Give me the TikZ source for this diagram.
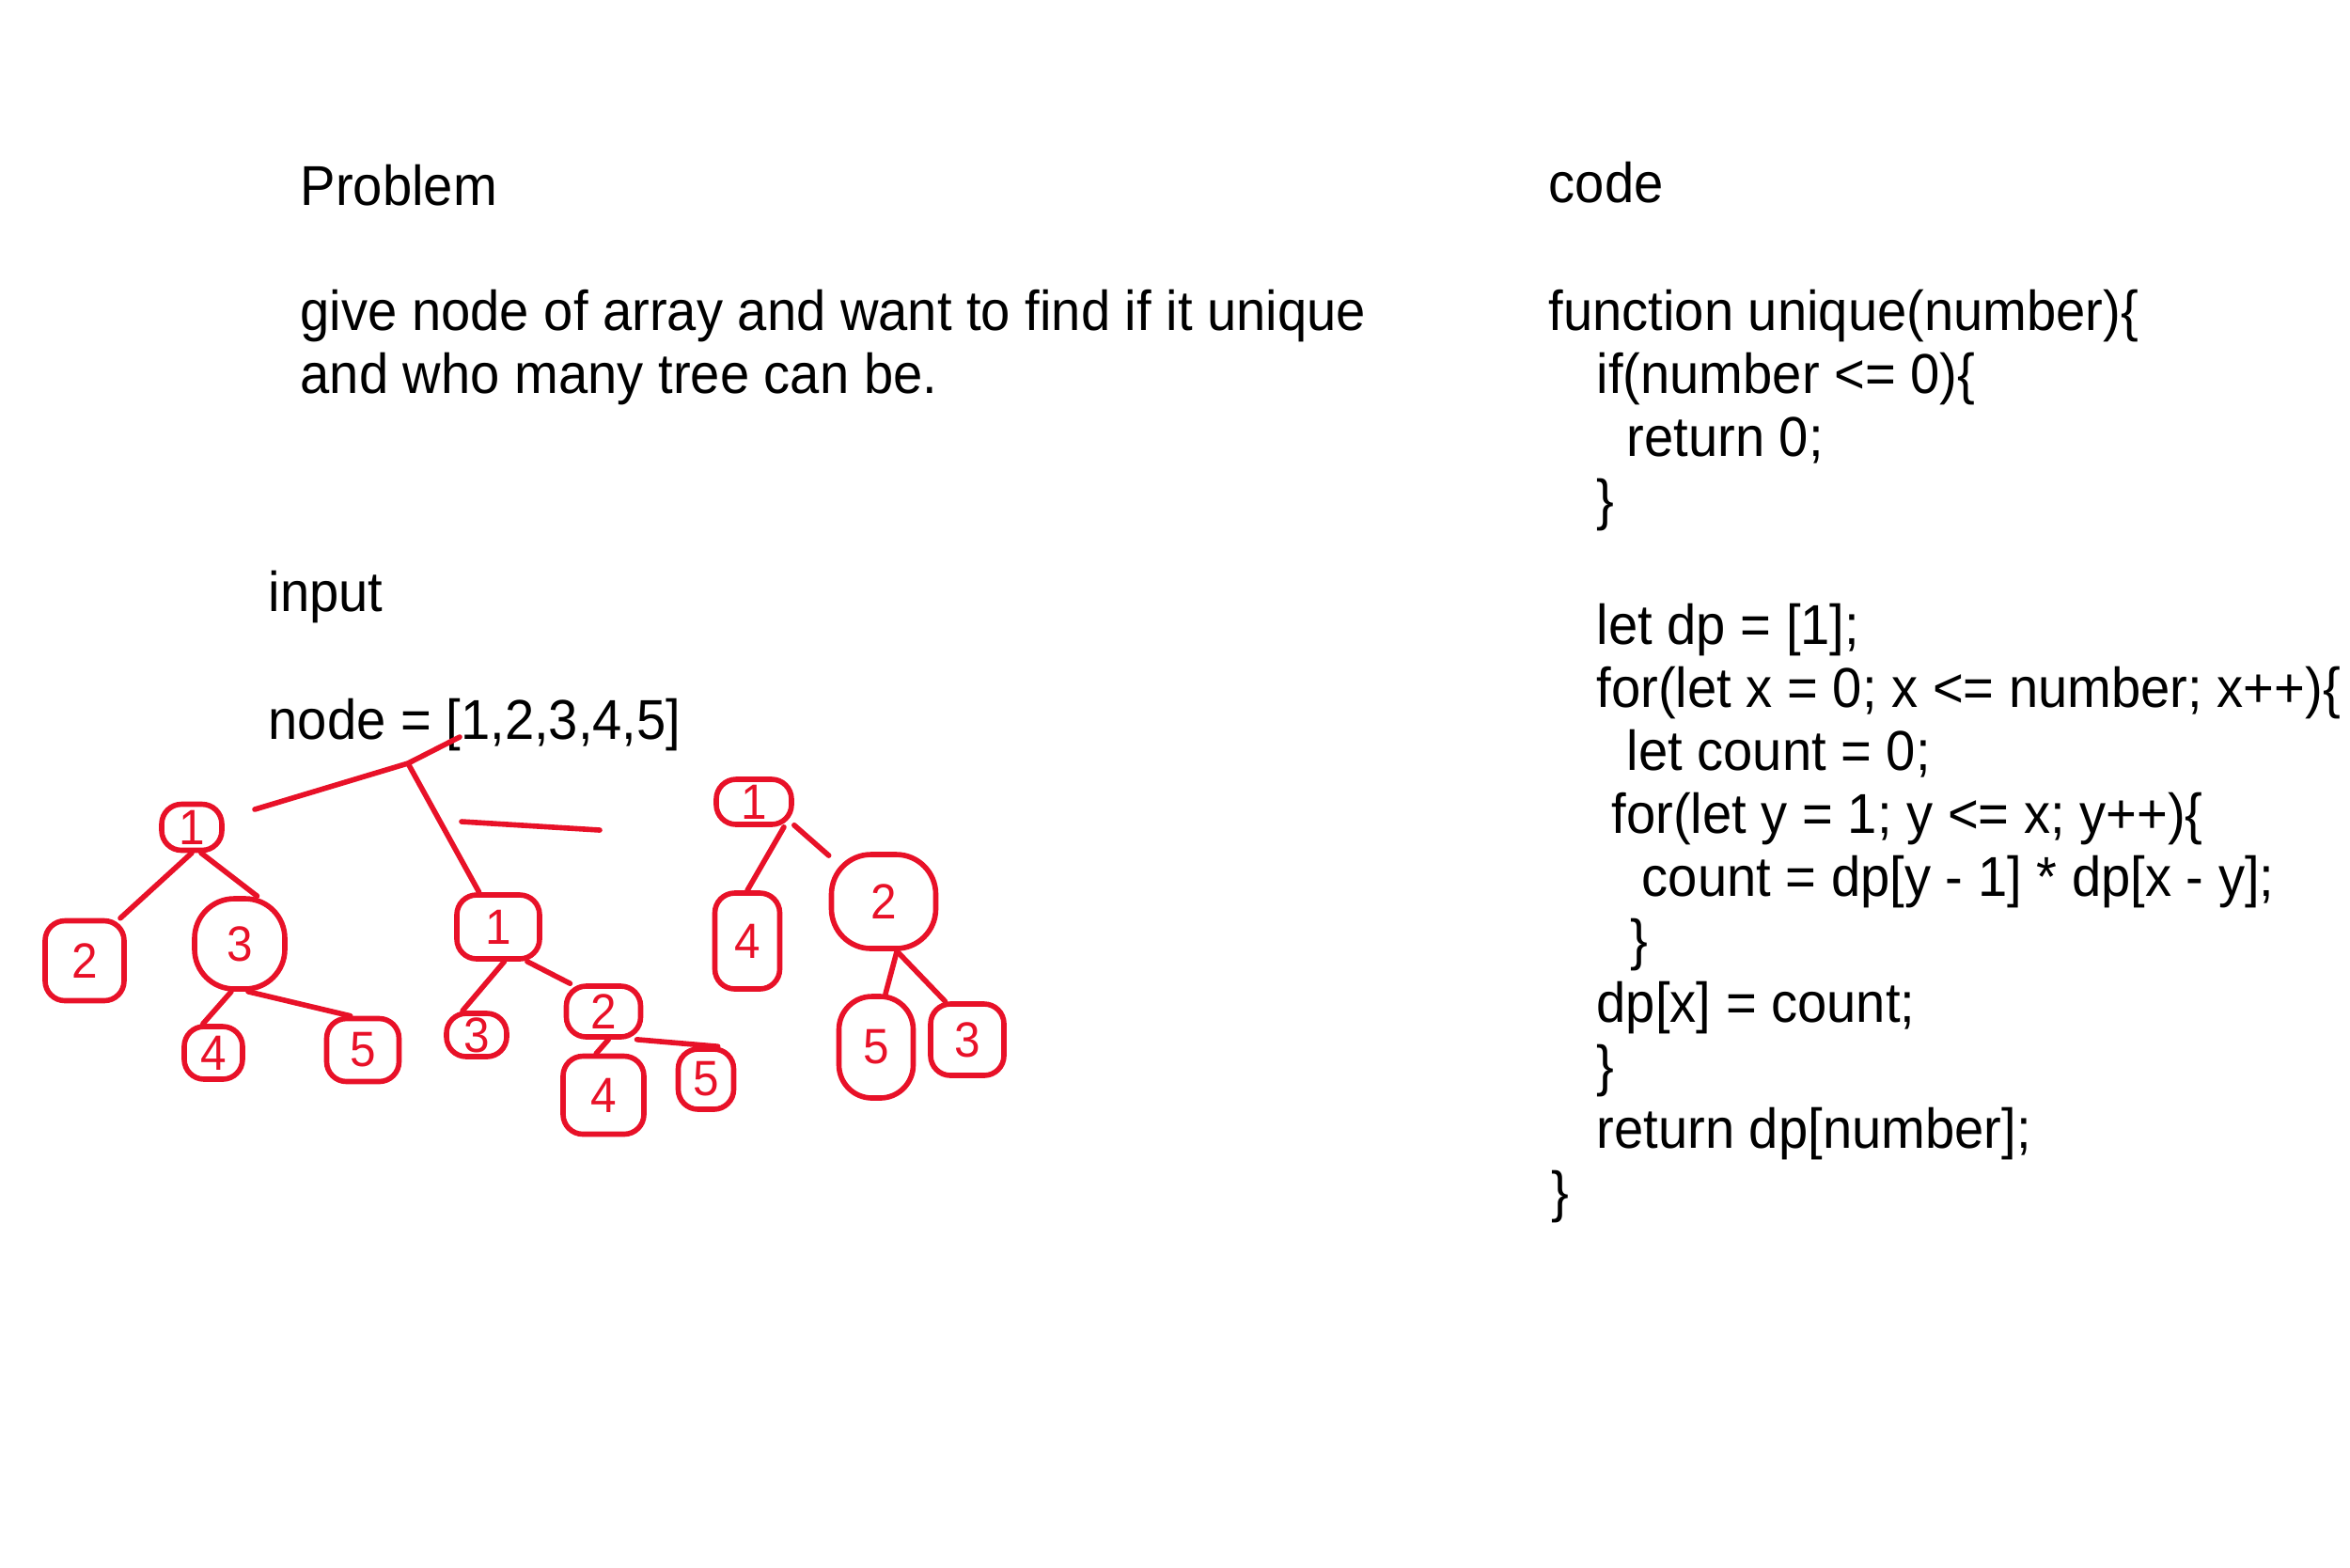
\documentclass[tikz,border=0pt]{standalone}
\usepackage{fontspec}
\setmainfont{Liberation Sans}[FakeStretch=0.94]
\definecolor{tinta}{RGB}{232,17,40}
\tikzset{
    texto/.style={anchor=base west, inner sep=0pt, font=\fontsize{17}{20}\selectfont},
    caja/.style={draw=tinta, text=tinta, line width=1.6pt, rounded corners=6pt, inner sep=0pt, font=\fontsize{15}{17}\selectfont},
    rama/.style={draw=tinta, line width=1.6pt, line cap=round},
}
\begin{document}
\begin{tikzpicture}
\useasboundingbox (0,0) rectangle (25,-16.67);
% Problem text
\node[texto] (problem) at (3.19,-2.18) {Problem};
\node[texto] (desc1) at (3.19,-3.51) {give node of array and want to find if it unique};
\node[texto] (desc2) at (3.19,-4.18) {and who many tree can be.};
\node[texto] (input) at (2.85,-6.50) {input};
\node[texto] (arr) at (2.85,-7.86) {node = [1,2,3,4,5]};
% Code
\node[texto] (code) at (16.47,-2.15) {code};
\foreach \x/\y/\linea [count=\i] in {
    16.47/3.51/{function unique(number)\{},
    16.98/4.18/{if(number <= 0)\{},
    17.30/4.85/{return 0;},
    16.98/5.52/{\}},
    16.98/6.85/{let dp = [1];},
    16.98/7.52/{for(let x = 0; x <= number; x++)\{},
    17.30/8.19/{let count = 0;},
    17.14/8.86/{for(let y = 1; y <= x; y++)\{},
    17.46/9.53/{count = dp[y - 1] * dp[x - y];},
    17.34/10.20/{\}},
    16.98/10.87/{dp[x] = count;},
    16.98/11.54/{\}},
    16.98/12.21/{return dp[number];},
    16.50/12.88/{\}}} {
    \node[texto] (linea\i) at (\x,-\y) {\linea};
}
% Tree 1
\node[caja, minimum width=0.64cm, minimum height=0.49cm] (a1) at (2.04,-8.80) {1};
\node[caja, minimum width=0.84cm, minimum height=0.85cm] (a2) at (0.90,-10.22) {2};
\node[caja, minimum width=0.96cm, minimum height=0.96cm, rounded corners=12pt] (a3) at (2.55,-10.04) {3};
\node[caja, minimum width=0.62cm, minimum height=0.56cm] (a4) at (2.27,-11.20) {4};
\node[caja, minimum width=0.77cm, minimum height=0.67cm] (a5) at (3.86,-11.17) {5};
\draw[rama] (a1.south) -- (a2.50);
\draw[rama] (a1.-70) -- (a3.70);
\draw[rama] (a3.-100) -- (a4.110);
\draw[rama] (a3.-80) -- (a5.110);
% Tree 2
\node[caja, minimum width=0.88cm, minimum height=0.68cm] (b1) at (5.30,-9.86) {1};
\node[caja, minimum width=0.64cm, minimum height=0.46cm] (b3) at (5.07,-11.01) {3};
\node[caja, minimum width=0.79cm, minimum height=0.54cm] (b2) at (6.42,-10.76) {2};
\node[caja, minimum width=0.86cm, minimum height=0.83cm] (b4) at (6.42,-11.65) {4};
\node[caja, minimum width=0.59cm, minimum height=0.64cm] (b5) at (7.51,-11.48) {5};
\draw[rama] (b1.-80) -- (b3.120);
\draw[rama] (b1.-50) -- (b2.140);
\draw[rama] (b2.-80) -- (b4.100);
\draw[rama] (b2.-40) -- (b5.70);
% Tree 3
\node[caja, minimum width=0.80cm, minimum height=0.48cm] (c1) at (8.02,-8.53) {1};
\node[caja, minimum width=0.69cm, minimum height=1.02cm] (c4) at (7.95,-10.01) {4};
\node[caja, minimum width=1.11cm, minimum height=1.00cm, rounded corners=12pt] (c2) at (9.40,-9.59) {2};
\node[caja, minimum width=0.79cm, minimum height=1.08cm, rounded corners=10pt] (c5) at (9.32,-11.14) {5};
\node[caja, minimum width=0.78cm, minimum height=0.76cm] (c3) at (10.29,-11.06) {3};
\draw[rama] (c1.-40) -- (c4.north);
\draw[rama] (c1.-30) -- (c2.140);
\draw[rama] (c2.-75) -- (c5.80);
\draw[rama] (c2.-75) -- (c3.120);
% Strokes from the array
\coordinate (punta) at (4.89,-7.84);
\coordinate (cruce) at (4.34,-8.12);
\coordinate (suelta) at (2.71,-8.61);
\coordinate (raya1) at (4.91,-8.74);
\coordinate (raya2) at (6.38,-8.83);
\draw[rama] (punta) -- (cruce) -- (suelta);
\draw[rama] (cruce) -- (b1);
\draw[rama] (raya1) -- (raya2);
\end{tikzpicture}
\end{document}
